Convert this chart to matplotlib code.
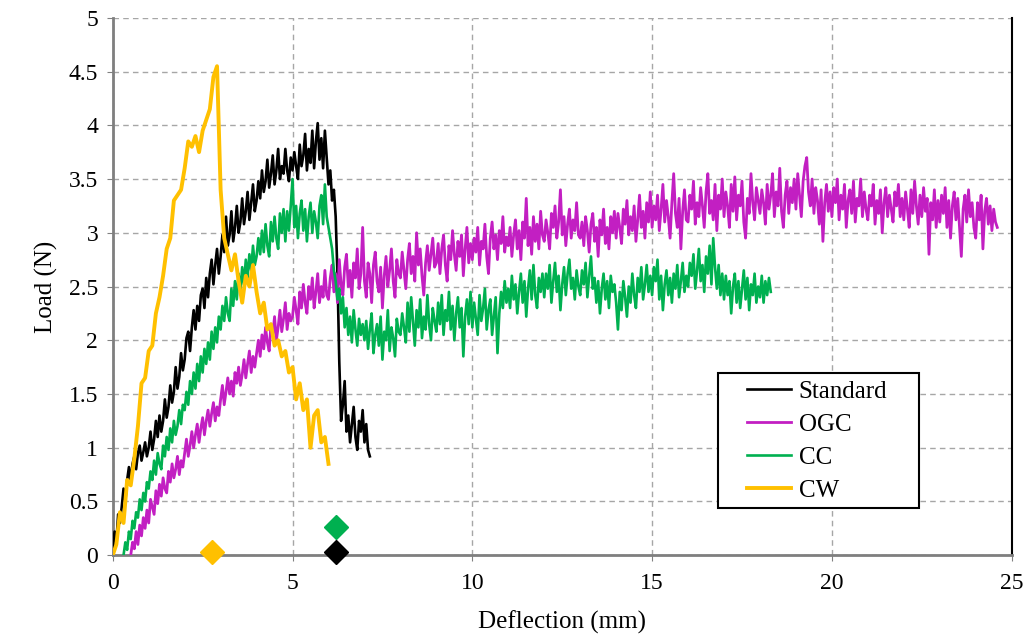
import numpy as np
import matplotlib
matplotlib.use('Agg')
import matplotlib.pyplot as plt
from matplotlib.patches import Rectangle

plt.rcParams['font.family'] = ['Liberation Serif', 'DejaVu Serif']

# Standard: load (N) every 0.05 mm from 0 mm
std_start, std_step = 0.0, 0.05
std_load = [0.05, 0.22, 0.12, 0.38, 0.30, 0.45, 0.62, 0.50, 0.70, 0.82, 0.68, 0.85, 0.92, 0.80, 0.95, 1.02, 0.88, 0.96, 1.05, 0.92,
            1.00, 1.15, 0.98, 1.08, 1.25, 1.10, 1.30, 1.15, 1.25, 1.45, 1.28, 1.38, 1.58, 1.42, 1.52, 1.75, 1.55, 1.66, 1.88, 1.72,
            1.82, 2.02, 2.08, 1.90, 2.12, 2.28, 2.10, 2.32, 2.18, 2.42, 2.48, 2.30, 2.58, 2.40, 2.62, 2.75, 2.52, 2.70, 2.85, 2.62,
            2.78, 2.98, 2.82, 3.15, 2.88, 2.98, 3.20, 2.92, 3.05, 3.25, 3.00, 3.10, 3.32, 3.08, 3.20, 3.38, 3.12, 3.28, 3.45, 3.20,
            3.30, 3.48, 3.32, 3.58, 3.38, 3.48, 3.68, 3.42, 3.55, 3.72, 3.45, 3.58, 3.78, 3.50, 3.62, 3.55, 3.78, 3.58, 3.48, 3.70,
            3.58, 3.75, 3.62, 3.50, 3.82, 3.62, 3.72, 3.92, 3.58, 3.78, 3.65, 3.95, 3.60, 3.85, 4.02, 3.68, 3.88, 3.60, 3.95, 3.70,
            3.45, 3.58, 3.30, 3.40, 3.15, 2.60, 1.80, 1.25, 1.40, 1.62, 1.15, 1.30, 1.05, 1.22, 1.38, 1.10, 0.98, 1.25, 1.15, 1.35,
            1.05, 1.22, 0.98, 0.92]

# OGC: every 0.05 mm from 0.5 mm
ogc_start, ogc_step = 0.5, 0.05
ogc_load = [0.00, 0.12, 0.06, 0.22, 0.10, 0.28, 0.18, 0.35, 0.25, 0.42,
            0.30, 0.52, 0.45, 0.38, 0.60, 0.48, 0.66, 0.55, 0.72, 0.62, 0.58, 0.78, 0.68, 0.85, 0.72, 0.80, 0.92, 0.75, 0.88, 0.82,
            0.95, 1.08, 0.92, 1.02, 1.15, 1.00, 1.12, 1.22, 1.05, 1.18, 1.28, 1.12, 1.25, 1.35, 1.20, 1.32, 1.42, 1.25, 1.38, 1.30,
            1.45, 1.58, 1.40, 1.52, 1.65, 1.50, 1.62, 1.48, 1.70, 1.60, 1.75, 1.58, 1.68, 1.82, 1.65, 1.78, 1.90, 1.70, 1.85, 1.75,
            1.88, 2.00, 1.85, 2.05, 1.92, 2.12, 1.98, 1.90, 2.15, 2.05, 2.22, 2.00, 2.12, 2.28, 2.08, 2.20, 2.35, 2.10, 2.25, 2.18,
            2.22, 2.40, 2.28, 2.15, 2.45, 2.30, 2.52, 2.35, 2.25, 2.50, 2.38, 2.58, 2.30, 2.45, 2.62, 2.35, 2.50, 2.40, 2.65, 2.42,
            2.38, 2.58, 2.70, 2.45, 2.62, 2.35, 2.75, 2.52, 2.42, 2.68, 2.80, 2.50, 2.65, 2.40, 2.72, 2.58, 2.85, 2.48, 2.62, 3.05,
            2.55, 2.40, 2.72, 2.62, 2.35, 2.70, 2.82, 2.55, 2.45, 2.68, 2.30, 2.60, 2.78, 2.50, 2.65, 2.85, 2.55, 2.40, 2.75, 2.62,
            2.58, 2.82, 2.65, 2.48, 2.75, 2.90, 2.62, 2.78, 2.55, 3.00, 2.70, 2.85, 2.60, 2.42, 2.72, 2.88, 2.65, 2.80, 2.95, 2.68,
            2.72, 2.90, 2.62, 2.85, 2.98, 2.70, 2.55, 2.88, 2.75, 3.02, 2.80, 2.65, 2.92, 2.78, 2.98, 2.60, 2.85, 3.05, 2.72, 2.90,
            2.75, 2.95, 2.82, 3.05, 2.70, 2.92, 2.85, 3.08, 2.78, 2.62, 2.95, 3.10, 2.85, 2.98, 2.75, 3.02, 2.90, 3.15, 2.82, 2.96,
            2.88, 3.05, 2.78, 2.98, 3.12, 2.85, 3.02, 2.75, 3.10, 2.95, 3.32, 2.88, 3.05, 2.80, 3.15, 2.92, 3.08, 2.85, 3.20, 2.98,
            2.92, 3.12, 3.00, 2.85, 3.18, 3.05, 3.25, 2.95, 3.10, 3.40, 2.98, 3.15, 2.88, 3.08, 3.22, 2.95, 3.12, 3.02, 3.28, 2.98,
            2.95, 3.10, 2.88, 3.15, 3.02, 2.82, 3.08, 3.18, 2.92, 3.05, 2.78, 3.12, 2.98, 3.22, 2.90, 3.05, 2.85, 3.15, 3.00, 3.20,
            2.95, 3.18, 3.05, 2.90, 3.22, 3.08, 3.30, 2.98, 3.15, 3.02, 3.25, 2.92, 3.12, 3.35, 3.05, 3.20, 2.95, 3.28, 3.10, 3.38,
            3.05, 3.25, 3.12, 3.35, 3.02, 3.22, 3.45, 3.10, 3.30, 3.15, 2.95, 3.28, 3.55, 3.18, 3.05, 3.32, 2.85, 3.20, 3.40, 3.12,
            3.10, 3.35, 3.22, 3.48, 3.08, 3.28, 3.15, 3.42, 3.25, 3.05, 3.38, 3.55, 3.18, 3.30, 3.12, 3.45, 3.02, 3.35, 3.22, 3.50,
            3.15, 3.38, 3.25, 3.05, 3.45, 3.20, 3.52, 3.12, 3.35, 3.25, 3.48, 3.10, 2.95, 3.32, 3.18, 3.55, 3.28, 3.12, 3.42, 3.30,
            3.18, 3.40, 3.28, 3.08, 3.45, 3.22, 3.35, 3.55, 3.15, 3.38, 3.25, 3.60, 3.20, 3.05, 3.35, 3.48, 3.18, 3.42, 3.28, 3.50,
            3.22, 3.55, 3.35, 3.15, 3.48, 3.62, 3.70, 3.38, 3.25, 3.50, 3.18, 3.42, 3.30, 3.08, 3.40, 2.92, 3.28, 3.45, 3.20, 3.38,
            3.15, 3.42, 3.28, 3.50, 3.12, 3.35, 3.22, 3.45, 3.05, 3.30, 3.40, 3.18, 3.48, 3.10, 3.32, 3.25, 3.50, 3.15, 3.38, 3.22,
            3.12, 3.35, 3.25, 3.45, 3.08, 3.30, 3.18, 3.40, 3.00, 3.28, 3.42, 3.15, 3.35, 3.22, 3.10, 3.38, 3.25, 3.45, 3.15, 3.32,
            3.12, 3.38, 3.22, 3.05, 3.40, 3.18, 3.48, 3.25, 3.08, 3.35, 3.15, 3.42, 3.20, 3.32, 2.80, 3.28, 3.12, 3.40, 3.05, 3.30,
            3.10, 3.35, 3.18, 3.42, 3.05, 3.30, 2.95, 3.25, 3.38, 3.12, 3.32, 3.05, 2.78, 3.22, 3.35, 3.10, 3.40, 3.15, 3.28, 3.05,
            2.95, 3.28, 3.12, 3.35, 2.85, 3.20, 3.32, 3.08, 3.25, 3.02, 3.22, 3.10, 3.05]

# CC: every 0.05 mm from 0.3 mm
cc_start, cc_step = 0.3, 0.05
cc_load = [0.00, 0.12, 0.05, 0.22, 0.15, 0.32, 0.25, 0.40, 0.35, 0.52, 0.42, 0.58, 0.50, 0.68,
           0.62, 0.78, 0.70, 0.88, 0.75, 0.95, 0.85, 0.80, 1.02, 0.92, 1.10, 0.98, 1.18, 1.05, 1.25, 1.12, 1.20, 1.35, 1.22, 1.40,
           1.35, 1.52, 1.40, 1.62, 1.50, 1.70, 1.55, 1.78, 1.62, 1.85, 1.70, 1.92, 1.78, 1.98, 1.82, 2.08, 1.92, 2.12, 1.98, 2.22,
           2.10, 2.32, 2.18, 2.40, 2.25, 2.18, 2.48, 2.32, 2.55, 2.38, 2.62, 2.45, 2.68, 2.52, 2.75, 2.58, 2.80, 2.65, 2.88, 2.70,
           2.78, 2.95, 2.80, 3.02, 2.82, 3.08, 2.88, 2.78, 3.10, 2.92, 3.15, 2.95, 2.85, 3.18, 3.00, 3.22, 2.92, 3.20, 3.02, 3.25,
           3.50, 3.05, 3.25, 2.95, 3.18, 3.30, 3.02, 3.22, 2.92, 3.15, 3.28, 3.00, 3.20, 3.10, 2.95, 3.25, 3.35, 3.08, 3.45, 3.15,
           3.05, 2.95, 2.85, 2.65, 2.55, 2.38, 2.48, 2.25, 2.40, 2.12, 2.30, 2.05, 2.22, 1.98, 2.28, 2.10, 1.95, 2.20, 2.05, 2.15,
           2.00, 2.18, 1.92, 2.10, 2.25, 1.88, 2.05, 2.15, 1.95, 2.22, 1.82, 2.08, 2.00, 2.28, 1.90, 2.12, 2.02, 1.85, 2.20, 2.08,
           2.05, 2.25, 2.12, 1.98, 2.35, 2.08, 2.40, 2.18, 1.95, 2.28, 2.12, 2.38, 2.02, 2.22, 2.10, 2.42, 2.15, 2.00, 2.30, 2.18,
           2.08, 2.35, 2.15, 2.42, 2.05, 2.28, 2.18, 2.45, 2.10, 2.32, 2.00, 2.25, 2.40, 2.12, 2.30, 1.85, 2.22, 2.38, 2.15, 2.45,
           2.12, 2.35, 2.20, 2.05, 2.42, 2.18, 2.30, 2.48, 2.10, 2.28, 2.38, 2.05, 2.22, 2.40, 1.88, 2.25, 2.45, 2.30, 2.55, 2.35,
           2.48, 2.30, 2.60, 2.38, 2.52, 2.25, 2.45, 2.62, 2.35, 2.55, 2.22, 2.48, 2.65, 2.38, 2.70, 2.42, 2.30, 2.58, 2.45, 2.62,
           2.40, 2.62, 2.48, 2.70, 2.35, 2.55, 2.72, 2.45, 2.60, 2.28, 2.52, 2.68, 2.42, 2.62, 2.75, 2.48, 2.58, 2.38, 2.65, 2.50,
           2.42, 2.65, 2.52, 2.72, 2.40, 2.60, 2.78, 2.48, 2.58, 2.35, 2.55, 2.25, 2.48, 2.62, 2.38, 2.55, 2.30, 2.60, 2.45, 2.52,
           2.35, 2.10, 2.45, 2.28, 2.55, 2.40, 2.22, 2.50, 2.35, 2.62, 2.42, 2.30, 2.58, 2.45, 2.68, 2.38, 2.52, 2.70, 2.45, 2.60,
           2.42, 2.68, 2.55, 2.75, 2.38, 2.60, 2.28, 2.52, 2.65, 2.42, 2.58, 2.35, 2.62, 2.48, 2.70, 2.40, 2.55, 2.72, 2.45, 2.60,
           2.50, 2.72, 2.60, 2.80, 2.48, 2.65, 2.85, 2.55, 2.70, 2.45, 2.78, 2.62, 2.88, 2.52, 2.95, 2.68, 2.48, 2.70, 2.42, 2.62,
           2.38, 2.60, 2.42, 2.55, 2.25, 2.50, 2.62, 2.35, 2.55, 2.30, 2.48, 2.65, 2.38, 2.58, 2.28, 2.52, 2.42, 2.62, 2.35, 2.50,
           2.40, 2.60, 2.35, 2.55, 2.42, 2.58, 2.45]

# CW: every 0.1 mm from 0 mm
cw_start, cw_step = 0.0, 0.1
cw_load = [0.00, 0.10, 0.40, 0.30, 0.70, 0.65, 0.90, 1.20, 1.60, 1.65,
           1.90, 1.95, 2.25, 2.40, 2.60, 2.85, 2.95, 3.30, 3.35, 3.40,
           3.60, 3.85, 3.80, 3.90, 3.75, 3.95, 4.05, 4.15, 4.45, 4.55,
           3.40, 2.95, 2.80, 2.65, 2.80, 2.55, 2.35, 2.60, 2.50, 2.70,
           2.45, 2.25, 2.35, 2.10, 2.15, 1.95, 2.00, 1.85, 1.90, 1.70,
           1.75, 1.45, 1.60, 1.35, 1.45, 1.00, 1.30, 1.35, 1.05, 1.10,
           0.85]

# failure points (diamonds)
fail_x = [6.2, 6.2, 2.75]
fail_y = [0.03, 0.26, 0.03]
fail_colors = ['#000000', '#00B050', '#FFC000']

names = ['Standard', 'OGC', 'CC', 'CW']
colors = ['#000000', '#C21FC2', '#00B050', '#FFC000']

fig = plt.figure(figsize=(10.25, 6.36), dpi=100)
ax = fig.add_axes([0.110, 0.127, 0.877, 0.845])

series = [(std_start, std_step, std_load), (ogc_start, ogc_step, ogc_load),
          (cc_start, cc_step, cc_load), (cw_start, cw_step, cw_load)]
widths = [1.9, 2.0, 1.9, 2.8]
handles = []
for (x0, dx, load), name, c, lw in zip(series, names, colors, widths):
    defl = x0 + dx * np.arange(len(load))
    h, = ax.plot(defl, load, color=c, lw=lw, label=name, zorder=3)
    handles.append(h)

for fx, fy, fc in zip(fail_x, fail_y, fail_colors):
    ax.plot(fx, fy, marker='D', markersize=12, color=fc, ls='none',
            clip_on=False, zorder=4)

ax.set_xlim(0, 25)
ax.set_ylim(0, 5)
ax.set_xticks(np.arange(0, 26, 5))
ax.set_yticks(np.arange(0, 5.01, 0.5))
ax.set_yticklabels(['0', '0.5', '1', '1.5', '2', '2.5', '3', '3.5', '4', '4.5', '5'])
ax.grid(True, color='#a6a6a6', ls=(0, (4, 3)), lw=1)
ax.set_axisbelow(True)

ax.tick_params(labelsize=17, direction='out', length=4.5, color='#808080')
ax.tick_params(axis='y', pad=6)
ax.tick_params(axis='x', pad=8)
ax.spines['left'].set_color('#7f7f7f')
ax.spines['bottom'].set_color('#7f7f7f')
ax.spines['left'].set_linewidth(2)
ax.spines['bottom'].set_linewidth(2)
ax.spines['right'].set_color('black')
ax.spines['right'].set_linewidth(1.5)
ax.spines['top'].set_visible(False)

ax.set_xlabel('Deflection (mm)', fontsize=18, labelpad=12)
ax.set_ylabel('Load (N)', fontsize=18, labelpad=8)

# legend box drawn separately so the entries can sit further in
ax.add_patch(Rectangle((0.673, 0.0875), 0.2236, 0.2515, transform=ax.transAxes,
                       fill=True, facecolor='white', edgecolor='black',
                       lw=1.5, zorder=5))
leg = ax.legend(handles=handles, loc='upper left',
                bbox_to_anchor=(0.706, 0.325), borderaxespad=0,
                borderpad=0, fontsize=18, frameon=False,
                handlelength=1.75, handletextpad=0.3, labelspacing=0.42)
leg.set_zorder(6)

fig.savefig('out.png', dpi=100)
